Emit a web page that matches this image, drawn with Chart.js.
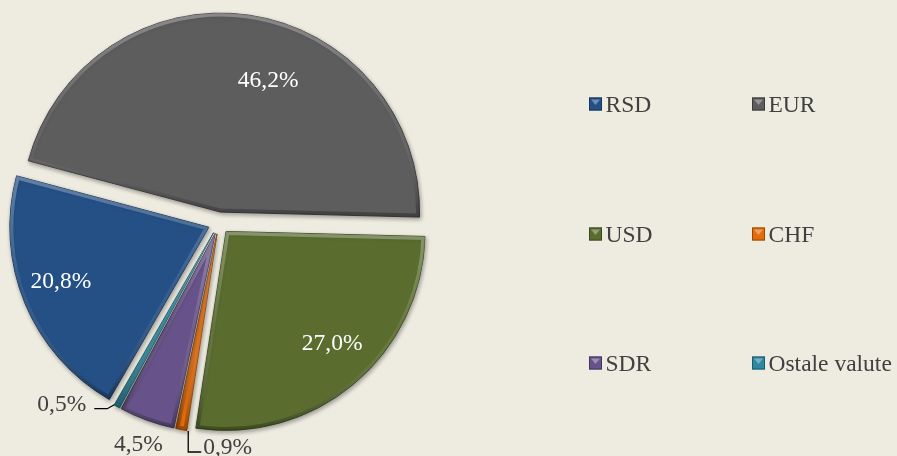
<!DOCTYPE html>
<html><head><meta charset="utf-8">
<script src="https://cdn.jsdelivr.net/npm/chart.js@4"></script>
<style>html,body{margin:0;padding:0;background:#EEECE1;overflow:hidden}canvas{display:block}</style>
</head><body>
<canvas id="c" width="897" height="456"></canvas>
<script>
// ---- data ----
const categories = ['RSD', 'EUR', 'USD', 'CHF', 'SDR', 'Ostale valute'];
const shares = [20.8, 46.2, 27.0, 0.9, 4.5, 0.5];
const valueLabels = shares.map(v => v.toFixed(1).replace('.', ',') + '%');

// ---- style ----
const fillColors = ['#245086', '#5D5D5D', '#5A6D2F', '#E46C0A', '#67538A', '#2E88A0'];
const edgeColors = ['#173760', '#3A3A3A', '#3A4A1C', '#9A4806', '#44365E', '#1D5C6E'];
const explodePx = [11, 11, 11, 11, 11, 11];
const FONT = '23.5px "Liberation Serif", "Times New Roman", serif';
// placement of value labels (style only)
const labelPlacement = [
  {inside: true, r: 0.79, da: 2.7},
  {inside: true, r: 0.71, da: 11.5},
  {inside: true, r: 0.77, da: -3.9},
  {inside: false, leader: [[7, 1.4], [7, 22.4], [20, 22.4]], tx: 22, ty: 24.4, align: 'left'},
  {inside: false, leader: null, tx: -8.5, ty: 30.5, align: 'center'},
  {inside: false, leader: [[-2.6, -1.8], [-9.6, 2.2], [-22.6, 2.2]], tx: -30.6, ty: 4.2, align: 'right'}
];
const legendCols = [589, 752];
const legendRows = [104, 234, 363];

function arcPath(ctx, arc) {
  ctx.beginPath();
  ctx.moveTo(arc.x, arc.y);
  ctx.arc(arc.x, arc.y, arc.outerRadius, arc.startAngle, arc.endAngle);
  ctx.closePath();
}

const explodePlugin = {
  id: 'explode',
  beforeDatasetsDraw(chart) {
    const a = chart.chartArea;
    const cx = (a.left + a.right) / 2, cy = (a.top + a.bottom) / 2;
    chart.getDatasetMeta(0).data.forEach((arc, i) => {
      const mid = (arc.startAngle + arc.endAngle) / 2;
      arc.x = cx + Math.cos(mid) * explodePx[i];
      arc.y = cy + Math.sin(mid) * explodePx[i];
    });
    const ctx = chart.ctx;
    ctx.save();
    ctx.shadowColor = 'rgba(0,0,0,0.35)';
    ctx.shadowBlur = 4;
    ctx.shadowOffsetX = 1;
    ctx.shadowOffsetY = 2;
  },
  afterDatasetsDraw(chart) {
    const ctx = chart.ctx;
    ctx.restore();
    const arcs = chart.getDatasetMeta(0).data;
    // bevel: light top edges, dark bottom edges
    arcs.forEach((arc) => {
      let minY = arc.y, maxY = arc.y;
      for (let k = 0; k <= 40; k++) {
        const t = arc.startAngle + (arc.endAngle - arc.startAngle) * k / 40;
        const yy = arc.y + Math.sin(t) * arc.outerRadius;
        minY = Math.min(minY, yy); maxY = Math.max(maxY, yy);
      }
      ctx.save();
      arcPath(ctx, arc);
      ctx.clip();
      const g = ctx.createLinearGradient(0, minY, 0, maxY);
      g.addColorStop(0, 'rgba(255,255,255,0.30)');
      g.addColorStop(0.5, 'rgba(255,255,255,0.08)');
      g.addColorStop(1, 'rgba(0,0,0,0.30)');
      ctx.strokeStyle = g;
      ctx.lineWidth = 7;
      ctx.lineJoin = 'miter';
      arcPath(ctx, arc);
      ctx.stroke();
      ctx.restore();
    });
    ctx.save();
    ctx.font = FONT;
    ctx.textBaseline = 'alphabetic';
    arcs.forEach((arc, i) => {
      const p = labelPlacement[i];
      const mid = (arc.startAngle + arc.endAngle) / 2;
      if (p.inside) {
        const ang = mid + p.da * Math.PI / 180;
        const r = arc.outerRadius * p.r;
        const x = arc.x + Math.cos(ang) * r, y = arc.y + Math.sin(ang) * r;
        ctx.fillStyle = '#FFFFFF';
        ctx.textAlign = 'center';
        ctx.fillText(valueLabels[i], x, y + 7.5);
      } else {
        const ox = arc.x + Math.cos(mid) * arc.outerRadius;
        const oy = arc.y + Math.sin(mid) * arc.outerRadius;
        if (p.leader) {
          ctx.strokeStyle = '#000000';
          ctx.lineWidth = 1.3;
          ctx.beginPath();
          p.leader.forEach(([dx, dy], k) => {
            if (k === 0) ctx.moveTo(ox + dx, oy + dy); else ctx.lineTo(ox + dx, oy + dy);
          });
          ctx.stroke();
        }
        ctx.fillStyle = '#404040';
        ctx.textAlign = p.align;
        ctx.fillText(valueLabels[i], ox + p.tx, oy + p.ty);
      }
    });
    ctx.restore();
  }
};

const legendPlugin = {
  id: 'gridLegend',
  afterDraw(chart) {
    const ctx = chart.ctx;
    ctx.save();
    ctx.font = FONT;
    ctx.textAlign = 'left';
    ctx.textBaseline = 'alphabetic';
    categories.forEach((name, i) => {
      const x = legendCols[i % 2], cy = legendRows[Math.floor(i / 2)];
      const s = 13, y = cy - 6.5;
      ctx.fillStyle = fillColors[i];
      ctx.fillRect(x, y, s, s);
      ctx.fillStyle = 'rgba(255,255,255,0.35)';
      ctx.beginPath();
      ctx.moveTo(x + 2, y + 2); ctx.lineTo(x + s - 2, y + 2); ctx.lineTo(x + s / 2, y + s / 2 + 1); ctx.closePath();
      ctx.fill();
      ctx.strokeStyle = edgeColors[i];
      ctx.lineWidth = 1;
      ctx.strokeRect(x + 0.5, y + 0.5, s - 1, s - 1);
      ctx.fillStyle = '#404040';
      ctx.fillText(name, x + 16.5, cy + 8);
    });
    ctx.restore();
  }
};

new Chart(document.getElementById('c'), {
  type: 'pie',
  data: {
    labels: categories,
    datasets: [{
      data: shares,
      backgroundColor: fillColors,
      borderColor: edgeColors,
      borderWidth: 1
    }]
  },
  options: {
    responsive: false,
    animation: false,
    events: [],
    rotation: 210,
    radius: 199,
    layout: {padding: {left: 20, right: 479, top: 24, bottom: 34}},
    plugins: {legend: {display: false}, tooltip: {enabled: false}}
  },
  plugins: [explodePlugin, legendPlugin]
});
</script>
</body></html>
